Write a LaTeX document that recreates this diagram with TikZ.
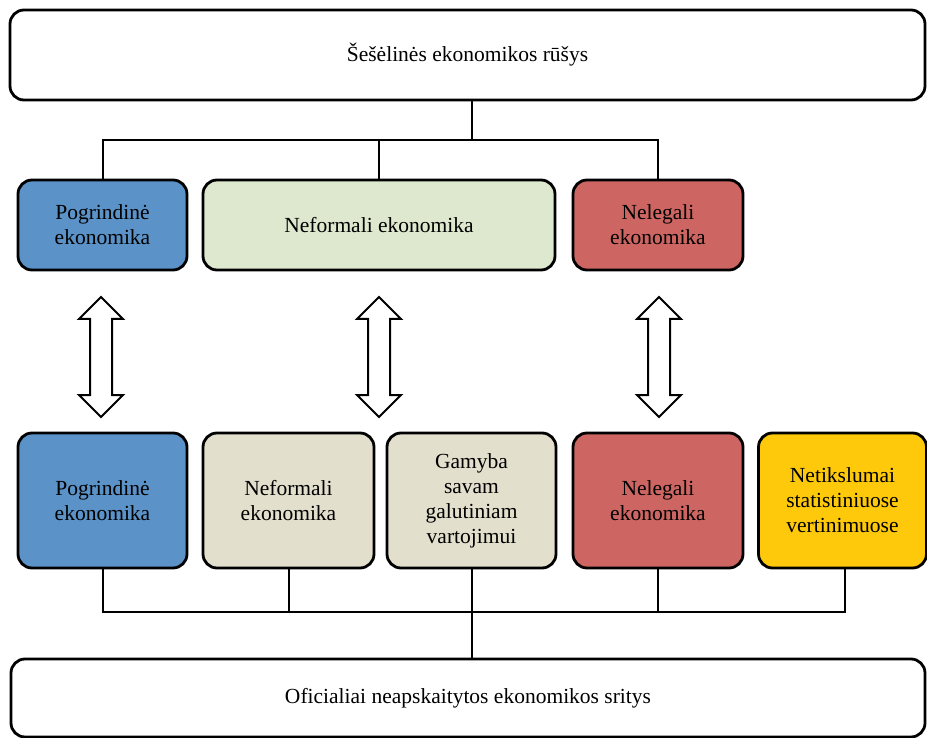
\documentclass[tikz,border=0pt]{standalone}
\usepackage{fontspec}
\setmainfont{Liberation Serif}
\definecolor{cblue}{HTML}{5B92C8}
\definecolor{cgreen}{HTML}{DDE8CE}
\definecolor{cbeige}{HTML}{E2DFCC}
\definecolor{cred}{HTML}{CD6662}
\definecolor{cyellow}{HTML}{FEC90A}
\begin{document}
\begin{tikzpicture}[x=1pt,y=-1pt,
  box/.style={draw=black,line width=2.8pt,rounded corners=14pt,align=center,
    inner sep=2pt,font=\fontsize{21.5}{25}\selectfont},
  link/.style={draw=black,line width=2pt},
  dbl/.style={draw=black,line width=2pt,fill=white,line join=miter}]
\useasboundingbox (0,0) rectangle (927,738);
\begin{scope}
\clip (0,0) rectangle (927,738);
\node[box,minimum width=915pt,minimum height=90pt] (top) at (467.5,55) {Šešėlinės ekonomikos rūšys};
\node[box,fill=cblue,minimum width=169pt,minimum height=90pt] (r1a) at (102.5,225) {Pogrindinė\\ekonomika};
\node[box,fill=cgreen,minimum width=352pt,minimum height=90pt] (r1b) at (379,225) {Neformali ekonomika};
\node[box,fill=cred,minimum width=170pt,minimum height=90pt] (r1c) at (658,225) {Nelegali\\ekonomika};

\node[box,fill=cblue,minimum width=169pt,minimum height=135pt] (r2a) at (102.5,500.5) {Pogrindinė\\ekonomika};
\node[box,fill=cbeige,minimum width=171pt,minimum height=135pt] (r2b) at (288.5,500.5) {Neformali\\ekonomika};
\node[box,fill=cbeige,minimum width=169pt,minimum height=135pt] (r2c) at (471.5,500.5) {Gamyba\\savam\\galutiniam\\vartojimui};
\node[box,fill=cred,minimum width=170pt,minimum height=135pt] (r2d) at (658,500.5) {Nelegali\\ekonomika};
\node[box,fill=cyellow,minimum width=168pt,minimum height=135pt] (r2e) at (842.5,500.5) {Netikslumai\\statistiniuose\\vertinimuose};

\node[box,minimum width=914pt,minimum height=78pt] (bot) at (468,698) {Oficialiai neapskaitytos ekonomikos sritys};

% top connectors
\coordinate (tj) at (471.5,140);
\draw[link] (top.south -| tj) -- (tj);
\draw[link] (r1a.north) -- (r1a.north |- tj) -- (r1c.north |- tj) -- (r1c.north);
\draw[link] (r1b.north) -- (r1b.north |- tj);

% bottom connectors
\coordinate (bj) at (471.5,612);
\coordinate (ej) at (845,612);
\draw[link] (r2a.south) -- (r2a.south |- bj) -- (ej) -- (ej |- r2e.south);
\draw[link] (r2b.south) -- (r2b.south |- bj);
\draw[link] (r2c.south) -- (r2c.south |- bj) -- (bot.north -| bj);
\draw[link] (r2d.south) -- (r2d.south |- bj);

% double arrows
\foreach \c in {101,379,659}{
  \draw[dbl] (\c,297) -- (\c+22,319) -- (\c+11,319) -- (\c+11,395) -- (\c+22,395)
    -- (\c,417) -- (\c-22,395) -- (\c-11,395) -- (\c-11,319) -- (\c-22,319) -- cycle;
}
\end{scope}
\end{tikzpicture}
\end{document}
